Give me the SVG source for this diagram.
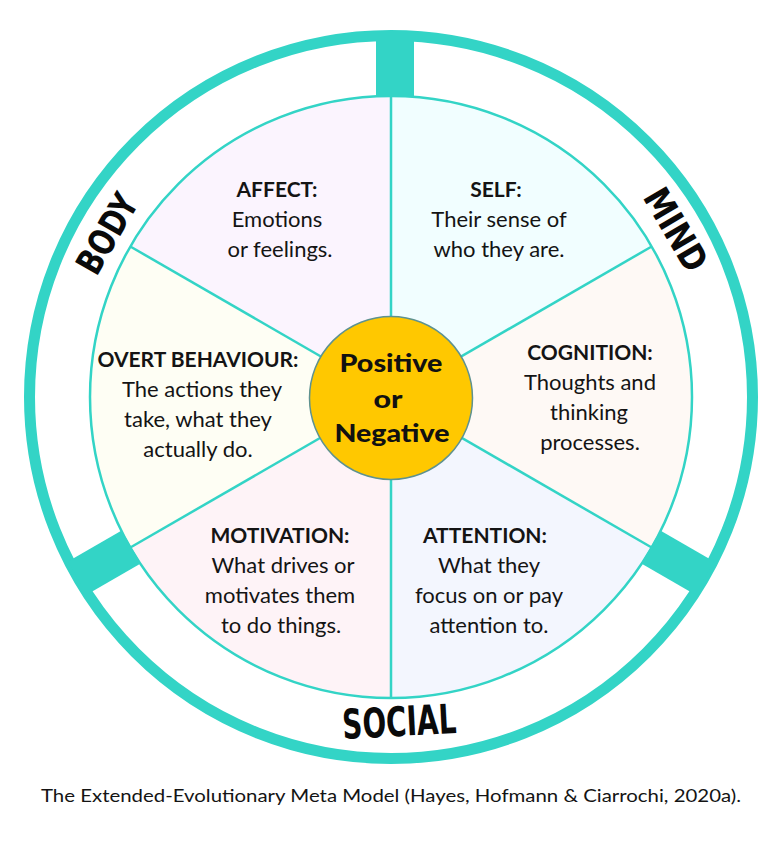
<svg xmlns="http://www.w3.org/2000/svg" width="768" height="852" viewBox="0 0 768 852">
<style>
  .rim { fill: none; stroke: #33D4C6; }
  .spoke { stroke: #33D4C6; stroke-width: 2.5; }
  .bar { fill: #33D4C6; }
  .hd { font-family: Lato, "Liberation Sans", sans-serif; font-weight: 700; font-size: 21px; fill: #141414; text-anchor: middle; }
  .bd { font-family: Lato, "Liberation Sans", sans-serif; font-weight: 400; font-size: 22px; fill: #141414; text-anchor: middle; }
  .ring { font-family: "DejaVu Sans", "Liberation Sans", sans-serif; font-weight: 700; font-stretch: condensed; fill: #0a0a0a; text-anchor: middle; }
  .ctr { font-family: Lato, "Liberation Sans", sans-serif; font-weight: 900; font-size: 25px; fill: #111; text-anchor: middle; }
  .cap { font-family: Lato, "Liberation Sans", sans-serif; font-size: 18px; fill: #141414; text-anchor: middle; }
</style>
<rect width="768" height="852" fill="#ffffff"/>

<g id="outer-ring">
  <circle class="rim" cx="391" cy="397" r="361.5" stroke-width="11"/>
</g>

<g id="affect">
  <path d="M391,397 L130.33,246.5 A301,301 0 0 1 391,96 Z" fill="#FBF4FE"/>
  <text class="hd" x="277" y="197">AFFECT:</text>
  <text class="bd" x="277" y="227">Emotions</text>
  <text class="bd" x="280" y="257">or feelings.</text>
</g>
<g id="self">
  <path d="M391,397 L391,96 A301,301 0 0 1 651.67,246.5 Z" fill="#F1FEFF"/>
  <text class="hd" x="496" y="197">SELF:</text>
  <text class="bd" x="499" y="227">Their sense of</text>
  <text class="bd" x="499" y="257">who they are.</text>
</g>
<g id="cognition">
  <path d="M391,397 L651.67,246.5 A301,301 0 0 1 651.67,547.5 Z" fill="#FEF9F5"/>
  <text class="hd" x="590" y="360">COGNITION:</text>
  <text class="bd" x="590" y="390">Thoughts and</text>
  <text class="bd" x="589" y="420">thinking</text>
  <text class="bd" x="590" y="450">processes.</text>
</g>
<g id="attention">
  <path d="M391,397 L651.67,547.5 A301,301 0 0 1 391,698 Z" fill="#F3F6FE"/>
  <text class="hd" x="485" y="543">ATTENTION:</text>
  <text class="bd" x="489" y="573">What they</text>
  <text class="bd" x="489" y="603">focus on or pay</text>
  <text class="bd" x="489" y="633">attention to.</text>
</g>
<g id="motivation">
  <path d="M391,397 L391,698 A301,301 0 0 1 130.33,547.5 Z" fill="#FEF3F7"/>
  <text class="hd" x="280" y="543">MOTIVATION:</text>
  <text class="bd" x="283" y="573">What drives or</text>
  <text class="bd" x="280" y="603">motivates them</text>
  <text class="bd" x="281" y="633">to do things.</text>
</g>
<g id="overt-behaviour">
  <path d="M391,397 L130.33,547.5 A301,301 0 0 1 130.33,246.5 Z" fill="#FEFEF4"/>
  <text class="hd" x="198" y="367">OVERT BEHAVIOUR:</text>
  <text class="bd" x="202" y="397">The actions they</text>
  <text class="bd" x="198" y="427">take, what they</text>
  <text class="bd" x="198" y="457">actually do.</text>
</g>

<g id="connectors">
  <line class="spoke" x1="391" y1="397" x2="391" y2="96"/>
  <line class="spoke" x1="391" y1="397" x2="651.67" y2="246.5"/>
  <line class="spoke" x1="391" y1="397" x2="651.67" y2="547.5"/>
  <line class="spoke" x1="391" y1="397" x2="391" y2="698"/>
  <line class="spoke" x1="391" y1="397" x2="130.33" y2="547.5"/>
  <line class="spoke" x1="391" y1="397" x2="130.33" y2="246.5"/>
  <circle class="rim" cx="391" cy="397" r="301" stroke-width="2.5"/>
</g>

<g id="separators">
  <rect class="bar" x="376" y="34" width="38" height="62"/>
  <rect class="bar" x="300" y="-19" width="62" height="38" transform="translate(391 397) rotate(30)"/>
  <rect class="bar" x="300" y="-19" width="62" height="38" transform="translate(391 397) rotate(150)"/>
</g>

<g id="body-label">
  <text class="ring" font-size="36" x="118" y="240" textLength="86" lengthAdjust="spacingAndGlyphs" transform="rotate(-60 118 240)">BODY</text>
</g>
<g id="mind-label">
  <text class="ring" font-size="36" x="665" y="236" textLength="90" lengthAdjust="spacingAndGlyphs" transform="rotate(59.5 665 236)">MIND</text>
</g>
<g id="social-label">
  <text class="ring" font-size="41" x="400" y="736" textLength="114" lengthAdjust="spacingAndGlyphs" transform="rotate(-3 400 736)">SOCIAL</text>
</g>

<g id="center">
  <circle cx="391" cy="398" r="81.5" fill="#FFC800" stroke="#5E9290" stroke-width="1.5"/>
  <text class="ctr" x="391" y="372" textLength="103" lengthAdjust="spacingAndGlyphs">Positive</text>
  <text class="ctr" x="388" y="408" textLength="29" lengthAdjust="spacingAndGlyphs">or</text>
  <text class="ctr" x="392" y="442" textLength="115" lengthAdjust="spacingAndGlyphs">Negative</text>
</g>

<g id="caption">
  <text class="cap" x="391" y="802" textLength="700" lengthAdjust="spacingAndGlyphs">The Extended-Evolutionary Meta Model (Hayes, Hofmann &amp; Ciarrochi, 2020a).</text>
</g>
</svg>
